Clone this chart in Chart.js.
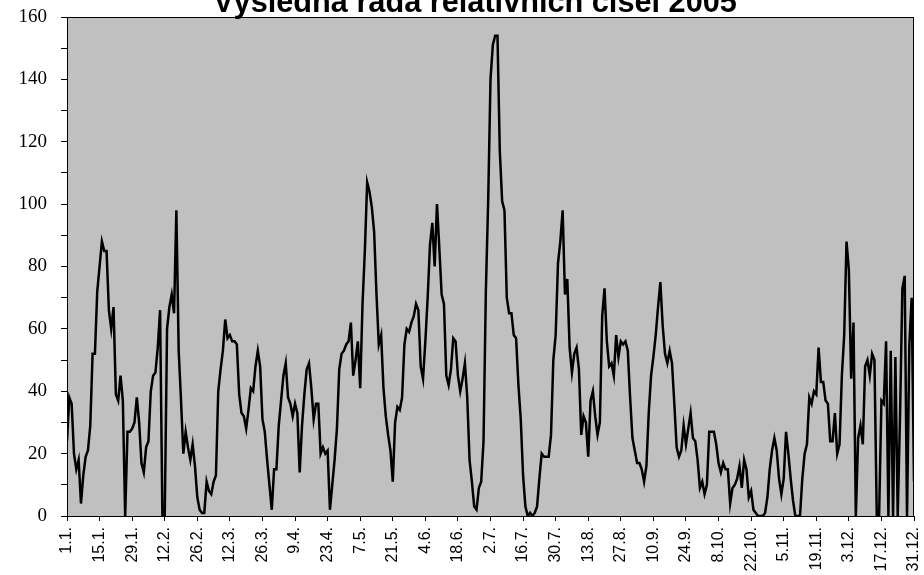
<!DOCTYPE html>
<html><head><meta charset="utf-8">
<script src="https://cdn.jsdelivr.net/npm/chart.js@4.4.0/dist/chart.umd.min.js"></script>
<style>html,body{margin:0;padding:0;background:#fff;}</style>
</head><body>
<canvas id="c" width="924" height="575"></canvas>
<script>
const titleText = "Výsledná řada relativních čísel 2005";
const tickLabels = ["1.1.","15.1.","29.1.","12.2.","26.2.","12.3.","26.3.","9.4.","23.4.","7.5.","21.5.","4.6.","18.6.","2.7.","16.7.","30.7.","13.8.","27.8.","10.9.","24.9.","8.10.","22.10.","5.11.","19.11.","3.12.","17.12.","31.12."];
const values = [
 24,38,36,20,15,18,4,13,19,21,
 29,52,52,72,80,88,85,85,66,60,
 67,39,37,45,37,0,27,27,28,30,
 38,30,17,14,22,24,40,45,46,54,
 66,0,0,60,67,71,65,98,53,37,
 20,27,22,18,23,16,6,2,1,1,
 11,8,7,11,13,40,47,53,63,57,
 58,56,56,55,39,33,32,28,34,41,
 40,48,53,48,31,27,18,10,2,15,
 15,29,37,45,49,38,36,32,36,33,
 14,29,39,47,49,41,31,36,36,20,
 22,20,21,2,10,18,28,47,52,53,
 55,56,62,45,50,56,41,68,85,107,
 104,99,91,71,55,58,41,32,26,21,
 11,30,35,34,38,55,60,59,62,64,
 68,66,48,44,56,70,87,94,80,100,
 86,71,68,45,42,47,57,56,45,40,
 44,49,38,18,11,3,2,9,11,24,
 72,101,140,151,154,154,117,101,98,70,
 65,65,58,57,42,31,13,3,0,1,
 0,1,3,12,20,19,19,19,26,50,
 58,81,88,98,71,76,54,46,52,54,
 47,26,32,30,19,37,40,32,26,30,
 64,73,56,48,49,45,58,51,56,55,
 56,53,38,25,21,17,17,15,11,16,
 33,45,51,58,67,75,61,52,49,53,
 49,36,22,19,21,29,23,28,33,25,
 24,18,9,11,7,10,27,27,27,23,
 17,14,17,15,15,4,9,10,12,16,
 9,18,15,6,8,2,1,0,0,0,
 1,6,15,21,25,21,12,7,12,27,
 20,12,5,0,0,0,12,20,23,38,
 36,40,39,54,43,43,37,36,24,24,
 33,20,23,45,58,88,79,44,62,0,
 25,29,23,48,50,45,52,50,0,0,
 37,36,56,0,53,0,51,0,32,73,
 77,0,55,70,11
];
const LABEL_STEP = 14;

const frame = {
  id: 'frame',
  beforeDatasetsDraw(chart) {
    const {ctx, chartArea: a} = chart;
    ctx.save();
    ctx.fillStyle = '#c0c0c0';
    ctx.fillRect(a.left, a.top, a.right - a.left, a.bottom - a.top);
    ctx.restore();
  },
  afterDraw(chart) {
    const {ctx, chartArea: a} = chart;
    ctx.save();
    ctx.strokeStyle = '#000';
    ctx.lineWidth = 1;
    ctx.strokeRect(a.left + 0.5, a.top + 0.5, a.right - a.left - 1, a.bottom - a.top);
    ctx.font = 'bold 30.7px "Liberation Sans", Arial, sans-serif';
    ctx.textAlign = 'center';
    ctx.textBaseline = 'alphabetic';
    ctx.fillStyle = '#000';
    ctx.fillText(titleText, 475, 12);
    ctx.restore();
  }
};

new Chart(document.getElementById('c'), {
  type: 'line',
  data: {
    datasets: [{
      data: values.map((v, i) => ({x: i, y: v})),
      borderColor: '#000',
      borderWidth: 2.5,
      pointRadius: 0,
      tension: 0,
      fill: false
    }]
  },
  options: {
    responsive: false,
    animation: false,
    layout: {padding: {left: 0, top: 17, right: 10, bottom: 0}},
    plugins: {legend: {display: false}, tooltip: {enabled: false}, title: {display: false}},
    scales: {
      x: {
        type: 'linear',
        min: 0, max: values.length - 1,
        afterFit(s) { s.height = 59; s.paddingLeft = 0; s.paddingRight = 0; },
        afterBuildTicks(s) {
          s.ticks = tickLabels.map((_, i) => ({value: i * LABEL_STEP}));
        },
        grid: {drawOnChartArea: false, drawTicks: true, tickLength: 5, color: '#000'},
        border: {display: true, color: '#000', width: 1},
        ticks: {
          autoSkip: false, minRotation: 90, maxRotation: 90, padding: 6,
          color: '#000',
          font: {family: '"Liberation Sans", Arial, sans-serif', size: 16},
          callback: (v) => tickLabels[Math.round(v / LABEL_STEP)]
        }
      },
      y: {
        min: 0, max: 160,
        afterFit(s) { s.width = 67; s.paddingTop = 0; s.paddingBottom = 0; },
        grid: {drawOnChartArea: false, drawTicks: true, tickLength: 6, color: '#000'},
        border: {display: true, color: '#000', width: 1},
        ticks: {
          stepSize: 10, padding: 14, color: '#000',
          font: {family: '"Liberation Serif", "Times New Roman", serif', size: 19},
          callback: (v) => (v % 20 === 0 ? String(v) : '')
        }
      }
    }
  },
  plugins: [frame]
});
</script>
</body></html>
